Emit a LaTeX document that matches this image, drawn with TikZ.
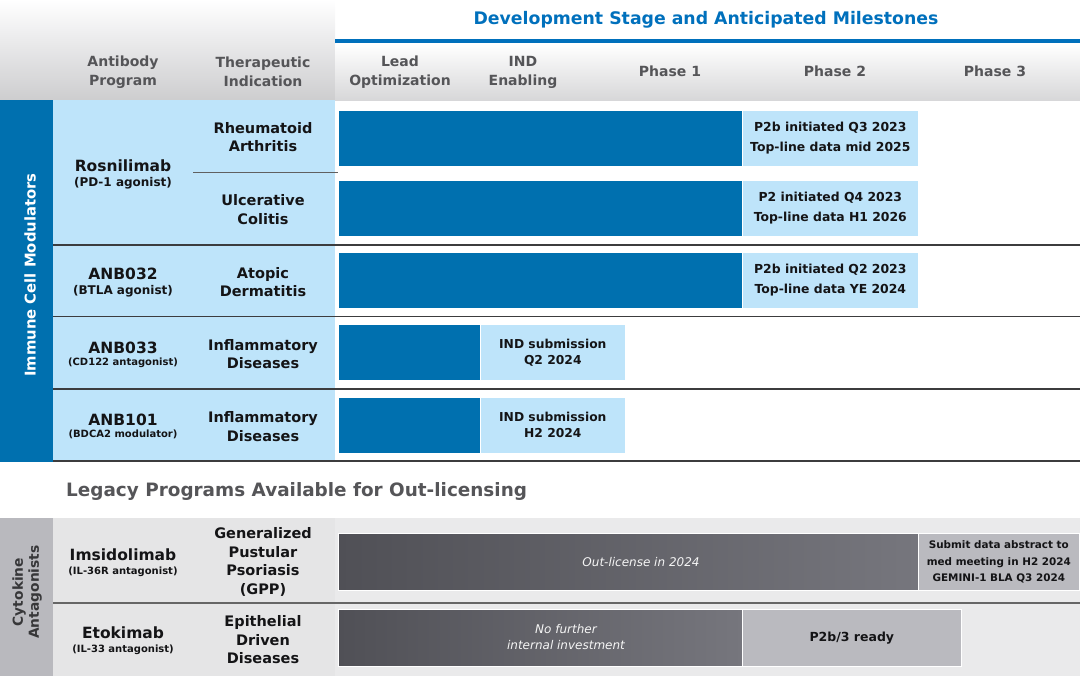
\documentclass[tikz,border=0pt]{standalone}
\usepackage{fontspec}
\setmainfont{DejaVu Sans}
\definecolor{dblue}{RGB}{0,112,175}
\definecolor{tblue}{RGB}{0,112,188}
\definecolor{lblue}{RGB}{190,228,250}
\definecolor{hgray}{RGB}{85,85,88}
\definecolor{hbot}{RGB}{205,205,207}
\definecolor{sidegray}{RGB}{185,185,190}
\definecolor{pale}{RGB}{229,229,230}
\definecolor{darkbarL}{RGB}{80,80,86}
\definecolor{darkbarR}{RGB}{118,118,125}
\definecolor{mbox}{RGB}{186,186,191}
\definecolor{rline}{RGB}{60,60,62}
\definecolor{txt}{RGB}{20,20,22}
\newcommand{\fs}[2]{\fontsize{#1}{#2}\selectfont}
\begin{document}
\begin{tikzpicture}[x=1pt,y=-1pt,
  hdr/.style={text=hgray,font=\bfseries\fs{14}{19},align=center,inner sep=0},
  prog/.style={text=txt,font=\bfseries\fs{15.5}{18},inner sep=0},
  progsub/.style={text=txt,font=\bfseries\fs{12}{14},inner sep=0},
  progsubs/.style={text=txt,font=\bfseries\fs{10}{12},inner sep=0},
  indic/.style={text=txt,font=\bfseries\fs{14.5}{18.5},align=center,inner sep=0},
  bar/.style={fill=dblue,draw=white,line width=0.6pt,inner sep=0,anchor=north west,minimum height=56pt},
  lbox/.style={fill=lblue,draw=white,line width=0.6pt,inner sep=0,anchor=north west,minimum height=56pt,align=center,text=txt,font=\bfseries\fs{12.4}{20}},
  gbar/.style={left color=darkbarL,right color=darkbarR,draw=white,line width=0.6pt,inner sep=0,anchor=north west,minimum height=57pt},
  gbox/.style={fill=mbox,draw=white,line width=0.6pt,inner sep=0,anchor=north west,minimum height=57pt,align=center,text=txt},
  rowline/.style={draw=rline,line width=1.6pt},
  itxt/.style={text=white!92!gray,font=\itshape\fs{12}{16},align=center,inner sep=0}
]
\useasboundingbox (0,0) rectangle (1080,678);
% header backgrounds
\shade[top color=white,bottom color=hbot] (0,0) rectangle (335,100);
\shade[top color=white,bottom color=hbot!80!white] (335,44) rectangle (1080,100);
\fill[tblue] (335,39) rectangle (1080,43);
\node[text=tblue,font=\bfseries\fs{17.3}{19},inner sep=0] (title) at (706,20) {Development Stage and Anticipated Milestones};
% column headers
\node[hdr] (hprog) at (123,72) {Antibody\\Program};
\node[hdr] (hind) at (263,72) {Therapeutic\\Indication};
\node[hdr] (hlead) at (400,72) {Lead\\Optimization};
\node[hdr] (hind2) at (523,72) {IND\\Enabling};
\node[hdr] (hp1) at (670,71) {Phase 1};
\node[hdr] (hp2) at (835,71) {Phase 2};
\node[hdr] (hp3) at (995,71) {Phase 3};
% immune section backgrounds
\fill[dblue] (0,100) rectangle (53,462);
\fill[lblue] (53,100) rectangle (335,462);
\node[rotate=90,text=white,font=\bfseries\fs{14.8}{17},inner sep=0] (imm) at (30,275) {Immune Cell Modulators};
% row lines
\draw[draw=gray!75!black,line width=1pt] (193,172) -- (338,172);
\draw[rowline] (53,245) -- (1080,245);
\draw[rowline] (53,316.5) -- (1080,316.5);
\draw[rowline] (53,389) -- (1080,389);
\draw[rowline] (53,461) -- (1080,461);
% program labels
\node[prog] (rosn) at (123,166) {Rosnilimab};
\node[progsub] (rosns) at (123,183) {(PD-1 agonist)};
\node[prog] (a32) at (123,274) {ANB032};
\node[progsub] (a32s) at (123,291) {(BTLA agonist)};
\node[prog] (a33) at (123,348) {ANB033};
\node[progsubs] (a33s) at (123,363) {(CD122 antagonist)};
\node[prog] (a101) at (123,420) {ANB101};
\node[progsubs] (a101s) at (123,434.5) {(BDCA2 modulator)};
% indications
\node[indic] (ra) at (263,137) {Rheumatoid\\Arthritis};
\node[indic] (uc) at (263,209.5) {Ulcerative\\Colitis};
\node[indic] (ad) at (263,282) {Atopic\\Dermatitis};
\node[indic] (id1) at (263,354) {Inflammatory\\Diseases};
\node[indic] (id2) at (263,426.5) {Inflammatory\\Diseases};
% bars
\node[bar,minimum width=404pt] (b1) at (338,110) {};
\node[lbox,minimum width=176pt] (m1) at (742,110) {P2b initiated Q3 2023\\Top-line data mid 2025};
\node[bar,minimum width=404pt] (b2) at (338,180) {};
\node[lbox,minimum width=176pt] (m2) at (742,180) {P2 initiated Q4 2023\\Top-line data H1 2026};
\node[bar,minimum width=404pt] (b3) at (338,252) {};
\node[lbox,minimum width=176pt] (m3) at (742,252) {P2b initiated Q2 2023\\Top-line data YE 2024};
\node[bar,minimum width=142pt] (b4) at (338,324) {};
\node[lbox,minimum width=145pt,font=\bfseries\fs{12.3}{16}] (m4) at (480,324) {IND submission\\Q2 2024};
\node[bar,minimum width=142pt] (b5) at (338,397) {};
\node[lbox,minimum width=145pt,font=\bfseries\fs{12.3}{16}] (m5) at (480,397) {IND submission\\H2 2024};
% legacy title
\node[anchor=west,text=hgray,font=\bfseries\fs{18.4}{20},inner sep=0] (legacy) at (66,491) {Legacy Programs Available for Out-licensing};
% cytokine section
\fill[sidegray] (0,518) rectangle (53,676);
\fill[pale] (53,518) rectangle (335,676);
\fill[pale!80!white] (335,518) rectangle (1080,676);
\node[rotate=90,text=txt!85!white,font=\bfseries\fs{13.8}{16},align=center,inner sep=0] (cyto) at (27,592) {Cytokine\\Antagonists};
\draw[draw=gray!80!black,line width=1.6pt] (53,603) -- (1080,603);
\node[prog] (ims) at (123,555) {Imsidolimab};
\node[progsubs] (imss) at (123,571.5) {(IL-36R antagonist)};
\node[prog] (eto) at (123,633) {Etokimab};
\node[progsubs] (etos) at (123,650) {(IL-33 antagonist)};
\node[indic] (gpp) at (263,562) {Generalized\\Pustular\\Psoriasis\\(GPP)};
\node[indic] (edd) at (263,640) {Epithelial\\Driven\\Diseases};
\node[gbar,minimum width=580pt] (g1) at (338,533) {};
\node[itxt] (g1t) at (641,562) {Out-license in 2024};
\node[gbox,minimum width=161pt,font=\bfseries\fs{10.4}{16.5}] (gm1) at (918,533) {Submit data abstract to\\med meeting in H2 2024\\GEMINI-1 BLA Q3 2024};
\node[gbar,minimum width=404pt] (g2) at (338,609) {};
\node[itxt] (g2t) at (566,637) {No further\\internal investment};
\node[gbox,minimum width=219pt,font=\bfseries\fs{12.5}{15}] (gm2) at (742,609) {P2b/3 ready};
\end{tikzpicture}
\end{document}
